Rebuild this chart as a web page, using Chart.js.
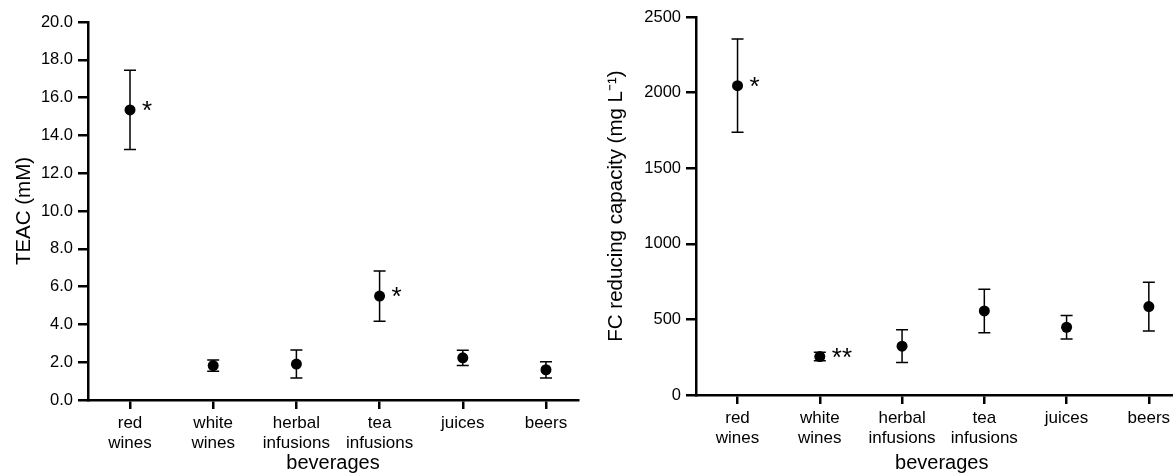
<!DOCTYPE html>
<html>
<head>
<meta charset="utf-8">
<script src="https://cdn.jsdelivr.net/npm/chart.js@4.4.1/dist/chart.umd.min.js"></script>
<style>
  body { margin: 0; background: #fff; }
  #wrap { position: relative; width: 1173px; height: 474px; overflow: hidden; }
  .box { position: absolute; top: 0; height: 474px; overflow: hidden; }
</style>
</head>
<body>
<div id="wrap">
  <div class="box" style="left:0;width:590px"><canvas id="teac" width="590" height="474"></canvas></div>
  <div class="box" style="left:590px;width:583px"><canvas id="fc" width="603" height="474"></canvas></div>
</div>
<script>
// categorias (eje x)
const beverages = ['red wines', 'white wines', 'herbal infusions', 'tea infusions', 'juices', 'beers'];

// TEAC (mM) media y desviacion
const teacMean = [15.35, 1.82, 1.90, 5.50, 2.23, 1.60];
const teacErr  = [2.10, 0.30, 0.74, 1.33, 0.40, 0.43];
const teacStars = ['*', '', '', '*', '', ''];

// FC reducing capacity (mg L-1) media y desviacion
const fcMean = [2046, 254, 323, 556, 448, 585];
const fcErr  = [308, 28, 108, 144, 78, 161];
const fcStars = ['*', '**', '', '', '', ''];

const FONT = '"Liberation Sans", Arial, sans-serif';

// barras de error + asteriscos, usando las escalas del grafico
const errorBars = {
  id: 'errorBars',
  beforeDatasetsDraw(chart, args, opts) {
    const {ctx, scales: {x, y}} = chart;
    ctx.save();
    ctx.strokeStyle = '#000';
    ctx.lineWidth = 1.5;
    opts.mean.forEach((m, i) => {
      const px = x.getPixelForValue(i);
      const top = y.getPixelForValue(m + opts.err[i]);
      const bot = y.getPixelForValue(m - opts.err[i]);
      ctx.beginPath();
      ctx.moveTo(px, top); ctx.lineTo(px, bot);
      ctx.moveTo(px - 6, top); ctx.lineTo(px + 6, top);
      ctx.moveTo(px - 6, bot); ctx.lineTo(px + 6, bot);
      ctx.stroke();
    });
    ctx.restore();
  },
  afterDatasetsDraw(chart, args, opts) {
    const {ctx, scales: {x, y}} = chart;
    ctx.save();
    ctx.fillStyle = '#000';
    ctx.font = '26px ' + FONT;
    ctx.textAlign = 'left';
    ctx.textBaseline = 'alphabetic';
    opts.stars.forEach((s, i) => {
      if (!s) return;
      ctx.fillText(s, x.getPixelForValue(i) + 12, y.getPixelForValue(opts.mean[i]) + 9);
    });
    ctx.restore();
  }
};

function makeChart(id, mean, err, stars, yTitle, yOpts, box) {
  return new Chart(document.getElementById(id), {
    type: 'scatter',
    data: {
      datasets: [{
        data: mean.map((v, i) => ({x: i, y: v})),
        pointRadius: 5.5,
        pointHoverRadius: 5.5,
        backgroundColor: '#000',
        borderColor: '#000',
        borderWidth: 0
      }]
    },
    plugins: [errorBars],
    options: {
      responsive: false,
      animation: false,
      events: [],
      layout: { padding: { left: 0, top: box.top, right: box.right, bottom: 0 } },
      plugins: {
        legend: { display: false },
        tooltip: { enabled: false },
        errorBars: { mean: mean, err: err, stars: stars }
      },
      scales: {
        x: {
          type: 'linear',
          min: box.xmin,
          max: box.xmax,
          afterBuildTicks: s => { s.ticks = beverages.map((b, i) => ({value: i})); },
          afterFit: s => { s.height = box.xh; },
          ticks: {
            color: '#000',
            font: { family: FONT, size: 17 },
            padding: 4,
            maxRotation: 0,
            autoSkip: false,
            callback: v => beverages[v].split(' ')
          },
          grid: { display: true, drawOnChartArea: false, drawTicks: true, tickLength: 9, color: '#000', lineWidth: 2.5 },
          border: { display: true, color: '#000', width: 2.5 },
          title: {
            display: true, text: 'beverages', color: '#000',
            font: { family: FONT, size: 20, lineHeight: 1.0 },
            padding: { top: 0, bottom: 1 }
          }
        },
        y: Object.assign({
          afterFit: s => { s.width = box.yw; },
          grid: { display: true, drawOnChartArea: false, drawTicks: true, tickLength: 10, color: '#000', lineWidth: 2.5 },
          border: { display: true, color: '#000', width: 2.5 },
          title: {
            display: true, text: yTitle, color: '#000',
            font: { family: FONT, size: 20.5, lineHeight: 1.2 },
            padding: { top: box.tpad, bottom: 0 }
          }
        }, yOpts)
      }
    }
  });
}

makeChart('teac', teacMean, teacErr, teacStars, 'TEAC (mM)',
  { min: 0, max: 20, ticks: { color: '#000', font: { family: FONT, size: 16.5 }, padding: 5, stepSize: 2, callback: v => v.toFixed(1) } },
  { top: 22, right: 12, xh: 74, yw: 88, xmin: -0.505, xmax: 5.385, tpad: 12 });

makeChart('fc', fcMean, fcErr, fcStars, 'FC reducing capacity (mg L\u207B\u00B9)',
  { min: 0, max: 2500, ticks: { color: '#000', font: { family: FONT, size: 16.5 }, padding: 5, stepSize: 500, callback: v => String(v) } },
  { top: 17, right: 0, xh: 79, yw: 106, xmin: -0.505, xmax: 5.47, tpad: 14 });
</script>
</body>
</html>
